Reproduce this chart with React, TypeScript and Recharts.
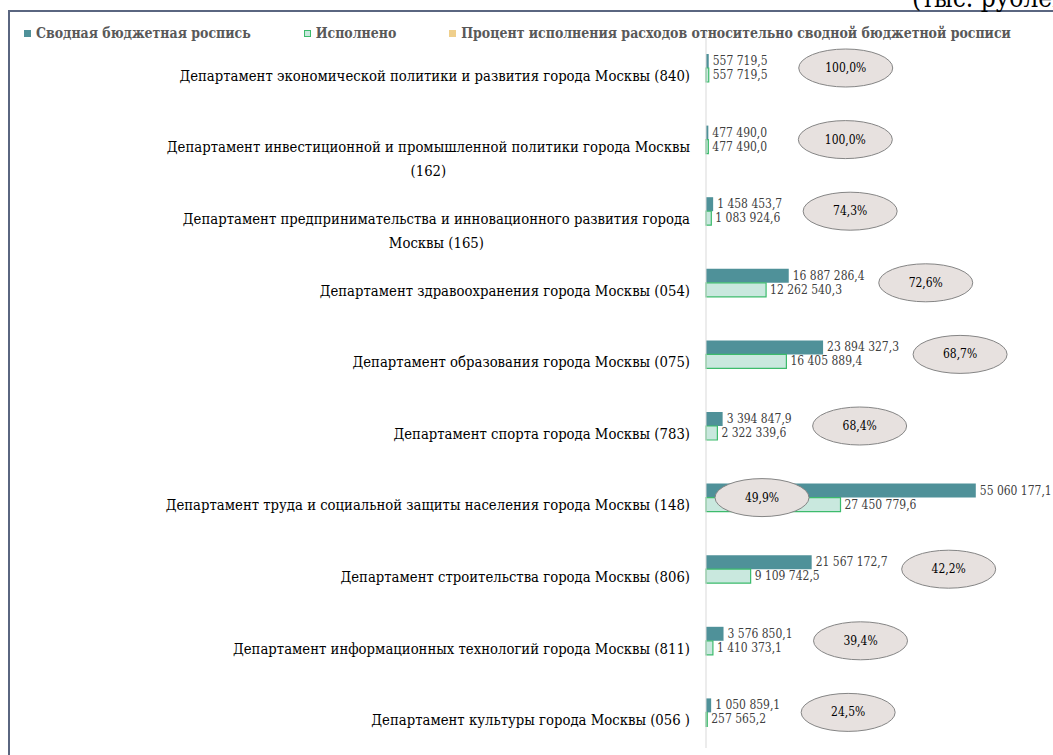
import React from "react";
import { BarChart, Bar, XAxis, YAxis, LabelList } from "recharts";

const categories = [
  "Департамент экономической политики и развития города Москвы (840)",
  "Департамент инвестиционной и промышленной политики города Москвы (162)",
  "Департамент предпринимательства и инновационного развития города Москвы (165)",
  "Департамент здравоохранения города Москвы (054)",
  "Департамент образования города Москвы (075)",
  "Департамент спорта города Москвы (783)",
  "Департамент труда и социальной защиты населения города Москвы (148)",
  "Департамент строительства города Москвы (806)",
  "Департамент информационных технологий города Москвы (811)",
  "Департамент культуры города Москвы (056 )",
];

const planned = [
  557719.5, 477490.0, 1458453.7, 16887286.4, 23894327.3, 3394847.9, 55060177.1,
  21567172.7, 3576850.1, 1050859.1,
];

const executed = [
  557719.5, 477490.0, 1083924.6, 12262540.3, 16405889.4, 2322339.6, 27450779.6,
  9109742.5, 1410373.1, 257565.2,
];

const percent = [100.0, 100.0, 74.3, 72.6, 68.7, 68.4, 49.9, 42.2, 39.4, 24.5];

const seriesNames = [
  "Сводная бюджетная роспись",
  "Исполнено",
  "Процент исполнения расходов относительно сводной бюджетной росписи",
];

const unitLabel = "(тыс. рублей)";

const data = categories.map((name, i) => ({
  name,
  planned: planned[i],
  executed: executed[i],
  percent: percent[i],
}));

const W = 1053;
const H = 755;
const FONT = "'DejaVu Serif Condensed', 'DejaVu Serif', serif";
const TEAL = "#4f9199";
const MINT = "#c9e8de";
const GREEN = "#3dbb6c";
const GOLD = "#efcf8c";

const ctx =
  typeof document !== "undefined"
    ? document.createElement("canvas").getContext("2d")
    : null;

const textWidth = (s: string, font: string) => {
  if (!ctx) return s.length * 8;
  ctx.font = font;
  return ctx.measureText(s).width;
};

// fit font sizes to the widths the reference text takes
const fitSize = (s: string, target: number, weight = "normal") =>
  (20 * target) / textWidth(s, `${weight} 20px ${FONT}`);

const CAT_SIZE = fitSize(categories[0], 511);
const VAL_SIZE = fitSize("55 060 177,1", 72);
const LEG_SIZE = fitSize(seriesNames[0], 215, "bold");

const wrap = (s: string, maxChars = 68) => {
  const words = s.split(" ");
  const lines: string[] = [];
  let cur = "";
  for (const w of words) {
    const next = cur ? cur + " " + w : w;
    if (next.length > maxChars && cur) {
      lines.push(cur);
      cur = w;
    } else cur = next;
  }
  if (cur) lines.push(cur);
  return lines;
};

const fmt = (v: number) => {
  const [i, d] = v.toFixed(1).split(".");
  return i.replace(/\B(?=(\d{3})+(?!\d))/g, " ") + "," + d;
};

const fmtPct = (v: number) => v.toFixed(1).replace(".", ",") + "%";

const CategoryTick = (props: any) => {
  const { x, y, payload } = props;
  const lines = wrap(String(payload.value));
  const w = Math.max(...lines.map((l) => textWidth(l, `${CAT_SIZE}px ${FONT}`)));
  const cx = x - w / 2;
  return (
    <g>
      {lines.map((l, i) => (
        <text
          key={i}
          x={cx}
          y={y + 13 + i * 24}
          textAnchor="middle"
          fontFamily={FONT}
          fontSize={CAT_SIZE}
          fill="#000"
        >
          {l}
        </text>
      ))}
    </g>
  );
};

const ValueLabel = (props: any) => {
  const vb = props.viewBox ?? props;
  const { x, y, width, height } = vb;
  return (
    <text
      x={x + width + 4}
      y={y + height / 2}
      dominantBaseline="central"
      fontFamily={FONT}
      fontSize={VAL_SIZE}
      fill="#404040"
    >
      {fmt(Number(props.value))}
    </text>
  );
};

const PercentBadge = (props: any) => {
  const vb = props.viewBox ?? props;
  const { x, y, width, height } = vb;
  const rx = 47;
  const ry = 19;
  let cx = x + width + 90 + rx;
  if (cx + rx > W - 4) cx = x + 9 + rx;
  const cy = y + height;
  return (
    <g>
      <ellipse cx={cx} cy={cy} rx={rx} ry={ry} fill="#e7e1df" stroke="#858585" strokeWidth={1} />
      <text
        x={cx}
        y={cy}
        textAnchor="middle"
        dominantBaseline="central"
        fontFamily={FONT}
        fontSize={VAL_SIZE}
        fill="#000"
      >
        {fmtPct(Number(props.value))}
      </text>
    </g>
  );
};

const legendSwatches = [
  { background: TEAL, border: "none" },
  { background: MINT, border: `1px solid ${GREEN}` },
  { background: GOLD, border: "none" },
];

export default function App() {
  return (
    <div
      style={{
        position: "fixed",
        top: 0,
        left: 0,
        width: W,
        height: H,
        overflow: "hidden",
        background: "#fff",
        fontFamily: FONT,
      }}
    >
      <div
        style={{
          position: "absolute",
          left: 912,
          top: -15,
          fontSize: 26,
          lineHeight: "26px",
          whiteSpace: "nowrap",
          color: "#000",
          zIndex: 2,
        }}
      >
        {unitLabel}
      </div>
      <div
        style={{
          position: "absolute",
          left: 8,
          top: 10,
          width: W,
          height: H,
          borderTop: "2px solid #5a6680",
          borderLeft: "2px solid #5a6680",
        }}
      />
      <div
        style={{
          position: "absolute",
          left: 24,
          top: 24,
          display: "flex",
          gap: 53,
          whiteSpace: "nowrap",
          fontWeight: "bold",
          fontSize: LEG_SIZE,
          lineHeight: "18px",
          color: "#595959",
        }}
      >
        {seriesNames.map((n, i) => (
          <div key={n} style={{ display: "flex", alignItems: "center", gap: 5 }}>
            <span
              style={{
                display: "inline-block",
                width: 7,
                height: 7,
                boxSizing: "border-box",
                ...legendSwatches[i],
              }}
            />
            <span>{n}</span>
          </div>
        ))}
      </div>
      <div style={{ position: "absolute", left: 0, top: 0 }}>
        <BarChart
          width={W}
          height={H}
          data={data}
          layout="vertical"
          margin={{ top: 32, right: 53, bottom: 7, left: 0 }}
          barSize={14}
          barGap={0}
        >
          <XAxis type="number" domain={[0, 60000000]} hide />
          <YAxis
            type="category"
            dataKey="name"
            width={706}
            axisLine={{ stroke: "#d9d9d9" }}
            tickLine={false}
            tickMargin={10}
            interval={0}
            tick={(p: any) => <CategoryTick {...p} />}
          />
          <Bar dataKey="planned" name={seriesNames[0]} fill={TEAL} isAnimationActive={false}>
            <LabelList dataKey="planned" content={(p: any) => <ValueLabel {...p} />} />
            <LabelList dataKey="percent" content={(p: any) => <PercentBadge {...p} />} />
          </Bar>
          <Bar
            dataKey="executed"
            name={seriesNames[1]}
            fill={MINT}
            stroke={GREEN}
            strokeWidth={1.2}
            isAnimationActive={false}
          >
            <LabelList dataKey="executed" content={(p: any) => <ValueLabel {...p} />} />
          </Bar>
        </BarChart>
      </div>
    </div>
  );
}
